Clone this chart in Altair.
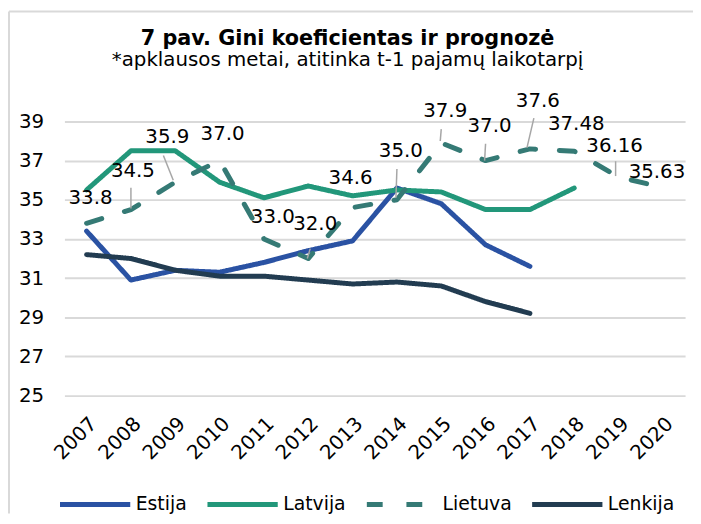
import altair as alt
import pandas as pd

title_text = "7 pav. Gini koeficientas ir prognozė"
subtitle_text = "*apklausos metai, atitinka t-1 pajamų laikotarpį"

years = [str(y) for y in range(2007, 2021)]
estija = [33.4, 30.9, 31.4, 31.3, 31.8, 32.4, 32.9, 35.6, 34.8, 32.7, 31.6, None, None, None]
latvija = [35.5, 37.5, 37.5, 35.9, 35.1, 35.7, 35.2, 35.5, 35.4, 34.5, 34.5, 35.6, None, None]
lietuva = [33.8, 34.5, 35.9, 37.0, 33.0, 32.0, 34.6, 35.0, 37.9, 37.0, 37.6, 37.48, 36.16, 35.63]
lietuva_labels = ["33.8", "34.5", "35.9", "37.0", "33.0", "32.0", "34.6", "35.0",
                  "37.9", "37.0", "37.6", "37.48", "36.16", "35.63"]
lenkija = [32.2, 32.0, 31.4, 31.1, 31.1, 30.9, 30.7, 30.8, 30.6, 29.8, 29.2, None, None, None]
y_ticks = [25, 27, 29, 31, 33, 35, 37, 39]

series_names = ["Estija", "Latvija", "Lietuva", "Lenkija"]
series_colors = ["#2A52A3", "#22977A", "#357A75", "#223C51"]

rows = []
for name, vals in zip(series_names, [estija, latvija, lietuva, lenkija]):
    for y, v in zip(years, vals):
        if v is not None:
            rows.append({"year": y, "value": v, "series": name})
df = pd.DataFrame(rows)

lab_df = pd.DataFrame({"year": years, "value": lietuva, "label": lietuva_labels})
title_df = pd.DataFrame({"t": [title_text]})
subtitle_df = pd.DataFrame({"t": [subtitle_text]})

FONT = "DejaVu Sans, sans-serif"
W, H = 627, 277
PL, PT, PR, PB = 57, 112, 8, 119

# label offsets (px) per year
label_off = {
    "2007": (4, -25), "2008": (2, -39), "2009": (-8, -46), "2010": (3, -27),
    "2011": (9, -22), "2012": (7, -35), "2013": (-2, -30), "2014": (4, -49),
    "2015": (4, -32), "2016": (4, -35), "2017": (8, -48), "2018": (2, -27),
    "2019": (-4, -31), "2020": (-6, -16),
}
# leader lines: (x_top, y_top, x_bot, y_bot) offsets relative to point
leaders = {
    "2008": (0, -22, 0, -1), "2009": (-12, -27, -2, -2), "2012": (2, -10, -1, 0),
    "2014": (0, -31, -1, -2), "2015": (0, -14, -1, -2), "2016": (0, -17, -1, 0),
    "2017": (4, -31, -3, -1), "2019": (-3, -16, -3, -1),
}

xscale = alt.Scale(domain=years)
yscale = alt.Scale(domain=[25, 39], nice=False)

x_axis = alt.Axis(labelAngle=-45, labelFontSize=20, labelColor="#000",
                  labelFont=FONT, domain=False, ticks=False,
                  labelPadding=18, grid=False, labelOverlap=False)
y_axis = alt.Axis(values=y_ticks, labelFontSize=20,
                  labelColor="#000", labelFont=FONT, domain=False,
                  ticks=False, labelPadding=21, gridColor="#D9D9D9",
                  gridWidth=2, labelOverlap=False)

def xe():
    return alt.X("year:O", scale=xscale, title=None, axis=x_axis)

def ye():
    return alt.Y("value:Q", scale=yscale, title=None, axis=y_axis)

lines = alt.Chart(df).mark_line(strokeWidth=5, strokeCap="round", strokeJoin="round").encode(
    x=xe(),
    y=ye(),
    color=alt.Color("series:N", scale=alt.Scale(domain=series_names, range=series_colors),
                    sort=series_names,
                    legend=alt.Legend(title=None, orient="none", direction="horizontal",
                                      legendX=-7, legendY=349, symbolType="stroke",
                                      symbolSize=5041, symbolStrokeWidth=5,
                                      labelFontSize=19, labelFont=FONT, labelColor="#000",
                                      labelOffset=3, columnPadding=10, padding=0)),
    strokeDash=alt.StrokeDash("series:N",
                              scale=alt.Scale(domain=series_names,
                                              range=[[1, 0], [1, 0], [16, 24], [1, 0]]),
                              sort=series_names, legend=None),
    order=alt.Order("year:O"),
)

layers = [lines]

for yr, (ax, ay, bx, by) in leaders.items():
    r = alt.Chart(lab_df).transform_filter(alt.datum.year == yr).mark_rule(
        color="#A6A6A6", strokeWidth=1.5,
        xOffset=ax, yOffset=ay, x2Offset=bx, y2Offset=by
    ).encode(x=xe(), x2="year:O", y=ye(), y2="value:Q")
    layers.append(r)

for yr, (dx, dy) in label_off.items():
    t = alt.Chart(lab_df).transform_filter(alt.datum.year == yr).mark_text(
        fontSize=20, font=FONT, color="#000", dx=dx, dy=dy, baseline="middle", align="center"
    ).encode(x=xe(), y=ye(), text="label:N")
    layers.append(t)

border_top = alt.Chart(title_df).mark_rule(color="#D9D9D9", strokeWidth=2).encode(
    x=alt.value(-PL + 1), x2=alt.value(W + PR), y=alt.value(-PT + 1))
border_left = alt.Chart(title_df).mark_rule(color="#D9D9D9", strokeWidth=2).encode(
    x=alt.value(-PL + 1), y=alt.value(-PT + 1), y2=alt.value(H + PB))

title_mark = alt.Chart(title_df).mark_text(
    fontSize=21, font=FONT, fontWeight="bold", color="#000",
    align="center", baseline="alphabetic"
).encode(x=alt.value(286), y=alt.value(-77), text="t:N")
subtitle_mark = alt.Chart(subtitle_df).mark_text(
    fontSize=20, font=FONT, color="#000", align="center", baseline="alphabetic"
).encode(x=alt.value(286), y=alt.value(-56), text="t:N")

layers += [border_top, border_left, title_mark, subtitle_mark]

chart = alt.layer(*layers).properties(
    width=W, height=H,
    padding={"left": PL, "top": PT, "right": PR, "bottom": PB},
    autosize=alt.AutoSizeParams(type="none"),
    background="white",
).configure_view(stroke=None)

chart.save("out.html", embed_options={"renderer": "svg", "actions": False})
